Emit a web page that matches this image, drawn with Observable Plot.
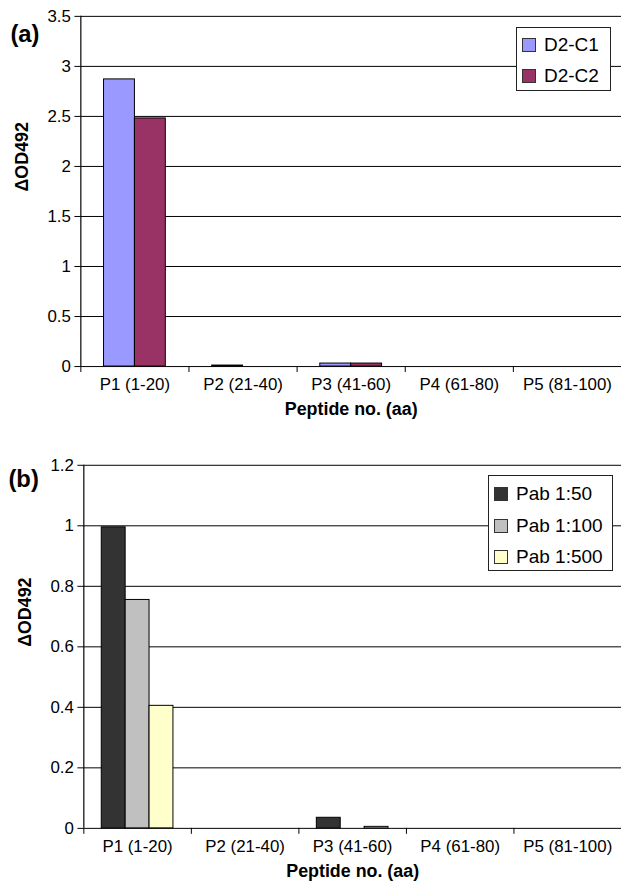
<!DOCTYPE html>
<html><head><meta charset="utf-8">
<script src="https://cdn.jsdelivr.net/npm/d3@7"></script>
<script src="https://cdn.jsdelivr.net/npm/@observablehq/plot@0.6"></script>
<style>
html,body{margin:0;padding:0;background:#fff;overflow:hidden;}
body{width:621px;height:891px;font-family:"Liberation Sans",Arial,Helvetica,sans-serif;color:#000;}
.panel{position:relative;width:621px;overflow:hidden;}
.legend{position:absolute;background:#fff;border:1px solid #222;box-sizing:border-box;font-size:19px;}
.legend .row{position:absolute;left:0;height:20px;display:flex;align-items:center;}
.legend .sw{width:12px;height:12px;border:1px solid #333;margin-left:5px;margin-right:8px;}
</style></head><body>
<div id="pa" class="panel"></div>
<div id="pb" class="panel"></div>
<script>
// ---- data ----
const peptides = ["P1 (1-20)", "P2 (21-40)", "P3 (41-60)", "P4 (61-80)", "P5 (81-100)"];

const seriesA = ["D2-C1", "D2-C2"];
const valuesA_C1 = [2.87, 0.01, 0.03, 0, 0];
const valuesA_C2 = [2.48, 0, 0.03, 0, 0];
const colorsA = ["#9999ff", "#993366"];
const yTicksA = [0, 0.5, 1, 1.5, 2, 2.5, 3, 3.5];

const seriesB = ["Pab 1:50", "Pab 1:100", "Pab 1:500"];
const valuesB_50 = [0.995, 0, 0.035, 0, 0];
const valuesB_100 = [0.755, 0, 0, 0, 0];
const valuesB_500 = [0.405, 0, 0.005, 0, 0];
const colorsB = ["#333333", "#c0c0c0", "#ffffcc"];
const yTicksB = [0, 0.2, 0.4, 0.6, 0.8, 1, 1.2];

const xTitle = "Peptide no. (aa)";
const yTitle = "\u0394OD492";

function buildRows(series, valueLists) {
  const n = series.length;
  const w = 1 / (n + 1.5);
  const rows = [];
  valueLists.forEach((vals, j) => {
    vals.forEach((v, i) => {
      if (v > 0) {
        const x1 = i + 0.75 * w + j * w;
        rows.push({series: series[j], cat: peptides[i], value: v, x1, x2: x1 + w});
      }
    });
  });
  return rows;
}

function drawPanel(el, opts) {
  const {series, valueLists, colors, yTicks, tag, height, marginTop, marginBottom, marginLeft, tagDx, tagDy, legend} = opts;
  const rows = buildRows(series, valueLists);
  const yMax = yTicks[yTicks.length - 1];
  const chart = Plot.plot({
    width: 626,
    height,
    marginTop, marginBottom, marginLeft, marginRight: 0,
    style: {fontFamily: '"Liberation Sans", Arial, Helvetica, sans-serif', fontSize: "17px", color: "#000", background: "#fff", overflow: "visible"},
    x: {domain: [0, peptides.length]},
    y: {domain: [0, yMax]},
    color: {domain: series, range: colors},
    marks: [
      Plot.gridY(yTicks, {stroke: "#000", strokeOpacity: 1, strokeWidth: 1}),
      Plot.rectY(rows, {x1: "x1", x2: "x2", y1: 0, y2: "value", fill: "series", stroke: "#000", strokeWidth: 1}),
      Plot.ruleX([0], {stroke: "#000", strokeWidth: 1.2}),
      Plot.axisY(yTicks, {tickSize: 6, tickPadding: 4, tickFormat: d => String(d), label: null, fontSize: 17}),
      Plot.axisX(d3.range(peptides.length + 1), {tickSize: 6, tickFormat: () => "", label: null}),
      Plot.axisX(peptides.map((p, i) => i + 0.5), {tickSize: 0, tickPadding: 12, tickFormat: d => peptides[Math.floor(d)], label: null, fontSize: 17}),
      Plot.text([xTitle], {frameAnchor: "bottom", dy: 49, fontWeight: "bold", fontSize: 18}),
      Plot.text([yTitle], {frameAnchor: "left", rotate: -90, dx: -59, fontWeight: "bold", fontSize: 18}),
      Plot.text([tag], {frameAnchor: "top-left", textAnchor: "start", dx: tagDx, dy: tagDy, fontWeight: "bold", fontSize: 24})
    ]
  });
  el.appendChild(chart);
  el.style.height = height + "px";
  // legend
  const lg = document.createElement("div");
  lg.className = "legend";
  Object.assign(lg.style, {left: legend.left + "px", top: legend.top + "px", width: legend.width + "px", height: legend.height + "px"});
  series.forEach((s, j) => {
    const row = document.createElement("div");
    row.className = "row";
    row.style.top = (legend.firstRow + j * legend.step - 10) + "px";
    const sw = document.createElement("div");
    sw.className = "sw";
    sw.style.background = colors[j];
    const tx = document.createElement("span");
    tx.textContent = s;
    row.appendChild(sw); row.appendChild(tx);
    lg.appendChild(row);
  });
  el.appendChild(lg);
}

drawPanel(document.getElementById("pa"), {
  series: seriesA, valueLists: [valuesA_C1, valuesA_C2], colors: colorsA, yTicks: yTicksA,
  tag: "(a)", height: 440, marginTop: 16, marginBottom: 71, marginLeft: 81, tagDx: -71, tagDy: 9,
  legend: {left: 516, top: 27, width: 95, height: 64, firstRow: 17, step: 31}
});
drawPanel(document.getElementById("pb"), {
  series: seriesB, valueLists: [valuesB_50, valuesB_100, valuesB_500], colors: colorsB, yTicks: yTicksB,
  tag: "(b)", height: 451, marginTop: 25, marginBottom: 60, marginLeft: 84, tagDx: -76, tagDy: 5,
  legend: {left: 488, top: 35, width: 125, height: 96, firstRow: 18, step: 31.5}
});
</script>
</body></html>
